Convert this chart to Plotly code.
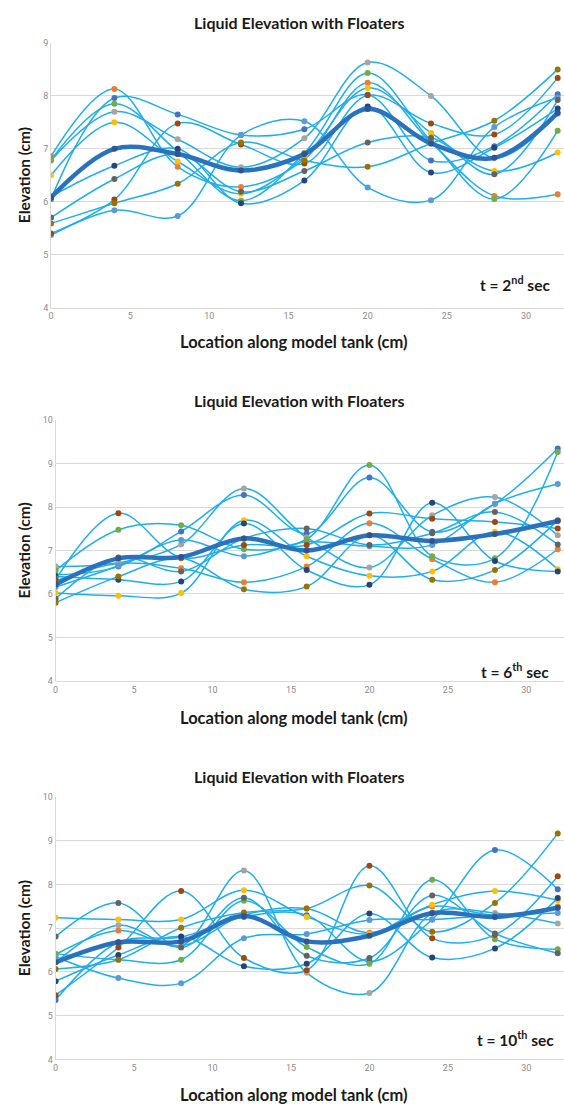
import plotly.graph_objects as go

x_cm = [0, 4, 8, 12, 16, 20, 24, 28, 32]
x_ticks = [0, 5, 10, 15, 20, 25, 30]
title_text = "Liquid Elevation with Floaters"
time_labels = ["2<sup>nd</sup>", "6<sup>th</sup>", "10<sup>th</sup>"]

series_names = ["F1", "F2", "F3", "F4", "F5", "F6", "F7", "F8", "F9", "F10"]
marker_colors = ["#4472C4", "#ED7D31", "#A5A5A5", "#FFC000", "#5B9BD5",
                 "#70AD47", "#264478", "#9E480E", "#636363", "#997300"]

# t = 2nd sec
p1_blue = [6.05, 7.96, 7.65, 7.26, 7.37, 8.02, 6.78, 7.05, 8.03]
p1_orange = [6.86, 8.13, 6.66, 6.28, 6.80, 8.25, 7.12, 6.11, 6.14]
p1_gray = [6.78, 7.70, 7.18, 6.65, 7.20, 8.63, 8.00, 6.83, 7.66]
p1_yellow = [6.50, 7.50, 6.76, 6.15, 6.85, 8.15, 7.30, 6.58, 6.93]
p1_lightblue = [5.37, 5.84, 5.73, 7.26, 7.52, 6.27, 6.03, 7.41, 7.97]
p1_green = [6.79, 7.85, 6.95, 6.02, 6.92, 8.43, 7.15, 6.05, 7.34]
p1_darkblue = [6.10, 6.68, 7.00, 5.97, 6.40, 7.80, 6.55, 7.02, 7.76]
p1_darkorange = [5.40, 6.04, 7.48, 7.08, 6.72, 8.01, 7.48, 7.27, 8.34]
p1_darkgray = [5.70, 6.43, 6.90, 6.19, 6.58, 7.12, 7.21, 6.52, 7.92]
p1_darkyellow = [5.59, 5.97, 6.34, 7.12, 6.78, 6.66, 7.10, 7.53, 8.50]
p1_mean = [6.08, 7.00, 6.90, 6.59, 6.90, 7.75, 7.10, 6.83, 7.68]

# t = 6th sec
p2_blue = [6.44, 6.63, 7.44, 8.28, 7.39, 8.68, 7.43, 8.08, 9.35]
p2_orange = [6.30, 6.70, 6.59, 6.27, 6.63, 7.63, 6.80, 6.27, 7.03]
p2_gray = [6.63, 6.72, 7.14, 8.43, 7.30, 6.61, 7.81, 8.23, 7.35]
p2_yellow = [6.02, 5.96, 6.02, 7.70, 6.87, 6.42, 6.52, 7.43, 6.57]
p2_lightblue = [6.16, 6.65, 7.24, 6.87, 7.20, 7.10, 7.13, 8.08, 8.53]
p2_green = [6.54, 7.48, 7.58, 7.03, 7.26, 8.97, 6.87, 6.82, 9.27]
p2_darkblue = [6.40, 6.33, 6.29, 7.62, 6.55, 6.21, 8.10, 6.76, 6.52]
p2_darkorange = [6.33, 7.86, 6.84, 7.13, 7.13, 7.85, 7.73, 7.66, 7.51]
p2_darkgray = [5.89, 6.84, 6.52, 7.28, 7.51, 7.13, 7.40, 7.89, 7.14]
p2_darkyellow = [5.80, 6.40, 6.82, 6.11, 6.17, 7.35, 6.33, 6.55, 7.70]
p2_mean = [6.22, 6.82, 6.85, 7.28, 7.00, 7.35, 7.22, 7.38, 7.68]

# t = 10th sec
p3_blue = [5.36, 6.68, 6.80, 7.26, 7.30, 6.24, 7.20, 8.79, 7.89]
p3_orange = [6.40, 6.95, 6.60, 7.30, 7.45, 6.90, 7.50, 7.30, 7.50]
p3_gray = [6.22, 7.07, 6.60, 8.32, 5.98, 5.52, 7.34, 7.35, 7.11]
p3_yellow = [7.24, 7.20, 7.20, 7.87, 7.26, 6.87, 7.54, 7.85, 7.64]
p3_lightblue = [6.35, 5.86, 5.74, 6.77, 6.87, 7.19, 7.20, 7.30, 7.35]
p3_green = [6.42, 6.28, 6.28, 7.63, 6.57, 6.19, 8.11, 6.75, 6.52]
p3_darkblue = [5.79, 6.39, 6.81, 6.13, 6.19, 7.34, 6.33, 6.54, 7.69]
p3_darkorange = [5.47, 6.56, 7.85, 6.32, 6.04, 8.43, 6.77, 6.85, 8.19]
p3_darkgray = [6.81, 7.58, 6.56, 7.70, 6.37, 6.32, 7.75, 6.88, 6.43]
p3_darkyellow = [6.07, 6.28, 7.01, 7.36, 7.45, 7.98, 6.92, 7.58, 9.17]
p3_mean = [6.22, 6.68, 6.70, 7.28, 6.70, 6.83, 7.35, 7.26, 7.47]

panels = [
    ([p1_blue, p1_orange, p1_gray, p1_yellow, p1_lightblue, p1_green,
      p1_darkblue, p1_darkorange, p1_darkgray, p1_darkyellow], p1_mean),
    ([p2_blue, p2_orange, p2_gray, p2_yellow, p2_lightblue, p2_green,
      p2_darkblue, p2_darkorange, p2_darkgray, p2_darkyellow], p2_mean),
    ([p3_blue, p3_orange, p3_gray, p3_yellow, p3_lightblue, p3_green,
      p3_darkblue, p3_darkorange, p3_darkgray, p3_darkyellow], p3_mean),
]

W, H = 564, 1111
LINE = "#1EAFEA"
MEAN = "#2B72BC"

# plot-area pixel boxes: (left, top, bottom)
boxes = [(48.3, 38.3, 305.3), (52.9, 419.0, 682.0), (52.9, 799.3, 1064.0)]
y_ranges = [[4, 9], [4, 10], [4, 10]]
title_y = [18, 399, 779]
xtitle_y = [340, 719, 1100]
tlabel_y = [281, 672, 1043]

fig = go.Figure()
for i, (series, mean) in enumerate(panels):
    ax = "" if i == 0 else str(i + 1)
    for name, vals, col in zip(series_names, series, marker_colors):
        fig.add_trace(go.Scatter(
            x=x_cm, y=vals, name=name, mode="lines+markers",
            line=dict(color=LINE, width=1.5, shape="spline", smoothing=1.0),
            marker=dict(color=col, size=6),
            xaxis="x" + ax, yaxis="y" + ax, showlegend=False))
    fig.add_trace(go.Scatter(
        x=x_cm, y=mean, name="Mean", mode="lines+markers",
        line=dict(color=MEAN, width=4.5, shape="spline", smoothing=1.0),
        marker=dict(color="#2F5597", size=6),
        xaxis="x" + ax, yaxis="y" + ax, showlegend=False))

layout = dict(
    width=W, height=H, margin=dict(l=0, r=0, t=0, b=0),
    paper_bgcolor="white", plot_bgcolor="white", showlegend=False,
    annotations=[],
)
tick_font = dict(family="Liberation Sans Narrow, Roboto, sans-serif", size=9, color="#8C8C8C")
txt = dict(family="Lato, sans-serif", color="#1A1A1A")
for i, (left, top, bottom) in enumerate(boxes):
    ax = "" if i == 0 else str(i + 1)
    layout["xaxis" + ax] = dict(
        domain=[left / W, 1.0], range=[0, 32.4], tickvals=x_ticks,
        showgrid=False, zeroline=False, showline=True, linecolor="#D9D9D9",
        linewidth=1, ticks="", tickfont=tick_font, anchor="y" + ax)
    layout["yaxis" + ax] = dict(
        domain=[1 - bottom / H, 1 - top / H], range=y_ranges[i], dtick=1,
        showgrid=True, gridcolor="#D9D9D9", gridwidth=1, zeroline=False,
        showline=True, linecolor="#D9D9D9", ticks="", tickfont=tick_font,
        anchor="x" + ax)
    common = dict(xref="paper", yref="paper", showarrow=False,
                  xanchor="center", yanchor="middle")
    layout["annotations"] += [
        dict(text="<b>" + title_text + "</b>", x=298 / W, y=1 - title_y[i] / H,
             font=dict(size=16, **txt), **common),
        dict(text="<b>Location along model tank (cm)</b>", x=293 / W,
             y=1 - xtitle_y[i] / H, font=dict(size=16.5, **txt), **common),
        dict(text="<b>Elevation (cm)</b>", x=21 / W, y=1 - (top + bottom) / 2 / H,
             textangle=-90, font=dict(size=15.5, **txt), **common),
        dict(text="<b>t = " + time_labels[i] + " sec</b>", x=515 / W,
             y=1 - tlabel_y[i] / H, font=dict(size=15.5, **txt), **common),
    ]

fig.update_layout(**layout)
fig.write_html(
    "out.html",
    config={"displayModeBar": False},
    post_script="document.body.style.margin='0';document.body.style.overflow='hidden';",
)
